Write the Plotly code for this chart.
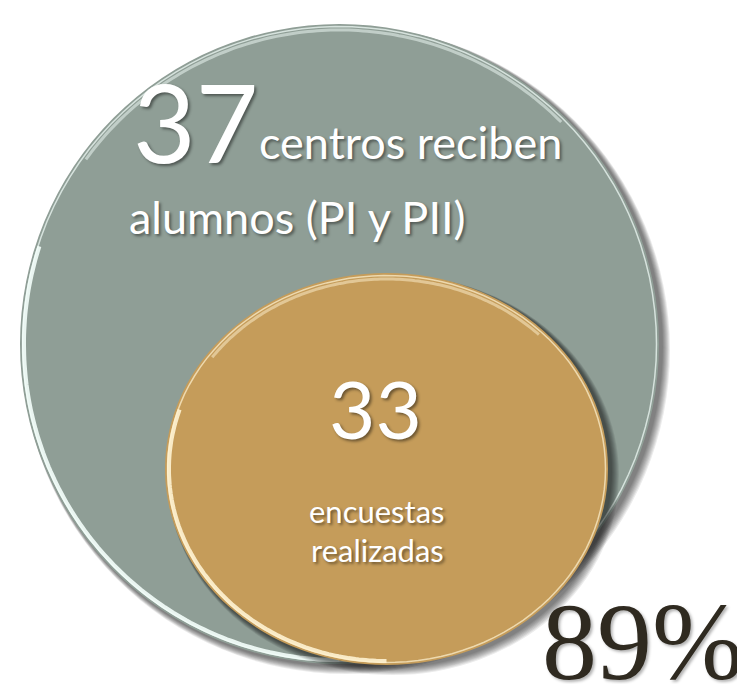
import numpy as np
import plotly.graph_objects as go

# datos
total_centros = 37
encuestas = 33
porcentaje = 89
label_total = ["centros reciben", "alumnos (PI y PII)"]
label_enc = ["encuestas", "realizadas"]

W, H = 745, 684
GREY = "#8f9e96"
GOLD = "#c59c5a"
DARK = "#2f2a20"
WHITE_SHADOW = "2px 2px 3px rgba(0,0,0,0.45)"


def ellipse_path(cx, cy, rx, ry, a0=0, a1=2 * np.pi, n=120, close=True):
    t = np.linspace(a0, a1, n)
    xs = cx + rx * np.cos(t)
    ys = cy + ry * np.sin(t)
    p = "M %.1f %.1f " % (xs[0], ys[0]) + " ".join("L %.1f %.1f" % (x, y) for x, y in zip(xs[1:], ys[1:]))
    return p + (" Z" if close else "")


def bubble(cx, cy, rx, ry, color, rim):
    shapes = []
    # sombra difusa hacia abajo/derecha
    for k in range(8, 0, -1):
        shapes.append(dict(type="circle", xref="x", yref="y",
                           x0=cx - rx + 2, x1=cx + rx + 3 + k, y0=cy - ry + 2, y1=cy + ry + 2 + k,
                           fillcolor="rgba(0,0,0,0.08)", line_width=0, layer="below"))
    shapes.append(dict(type="circle", xref="x", yref="y",
                       x0=cx - rx, x1=cx + rx, y0=cy - ry, y1=cy + ry,
                       fillcolor=color, line=dict(color=color, width=0), layer="below"))
    # brillo en el borde
    shapes.append(dict(type="path", path=ellipse_path(cx, cy, rx - 2.5, ry - 2.5, close=False),
                       line=dict(color=rim, width=1.5), opacity=0.7, layer="below"))
    shapes.append(dict(type="path", path=ellipse_path(cx, cy, rx - 4, ry - 4, 0.5 * np.pi, 1.1 * np.pi, close=False),
                       line=dict(color=rim, width=4), opacity=0.9, layer="below"))
    shapes.append(dict(type="path", path=ellipse_path(cx, cy, rx - 6, ry - 6, 1.2 * np.pi, 1.75 * np.pi, close=False),
                       line=dict(color=rim, width=3), opacity=0.5, layer="below"))
    return shapes


fig = go.Figure()
# traza vacía para fijar los ejes
fig.add_trace(go.Scatter(x=[0, W], y=[0, H], mode="markers", marker=dict(opacity=0), hoverinfo="skip", showlegend=False))

shapes = bubble(331.5, 336, 319.5, 320, GREY, "#f4fffb")
shapes += bubble(378.5, 461, 221.5, 196, GOLD, "#fff3d2")

annots = [
    dict(x=124, y=179, text=str(total_centros), xanchor="left", yanchor="bottom",
         font=dict(family="Lato", size=108, color="white", shadow=WHITE_SHADOW)),
    dict(x=250, y=162, text=label_total[0], xanchor="left", yanchor="bottom",
         font=dict(family="Lato", size=45, color="white", shadow=WHITE_SHADOW)),
    dict(x=120, y=237, text=label_total[1], xanchor="left", yanchor="bottom",
         font=dict(family="Lato", size=45, color="white", shadow=WHITE_SHADOW)),
    dict(x=367, y=449, text=str(encuestas), xanchor="center", yanchor="bottom",
         font=dict(family="Lato", size=80, color="white", shadow=WHITE_SHADOW)),
    dict(x=369, y=523, text=label_enc[0], xanchor="center", yanchor="bottom",
         font=dict(family="Lato", size=31, color="white", shadow=WHITE_SHADOW)),
    dict(x=369, y=562, text=label_enc[1], xanchor="center", yanchor="bottom",
         font=dict(family="Lato", size=31, color="white", shadow=WHITE_SHADOW)),
    dict(x=737, y=572, text=f"{porcentaje}%", xanchor="right", yanchor="top",
         font=dict(family="Liberation Serif", size=110, color=DARK, shadow="2px 2px 3px rgba(0,0,0,0.3)")),
]
for a in annots:
    a.update(xref="x", yref="y", showarrow=False, borderpad=0)

fig.update_layout(
    width=W, height=H, margin=dict(l=0, r=0, t=0, b=0),
    paper_bgcolor="white", plot_bgcolor="white",
    xaxis=dict(range=[0, W], visible=False, fixedrange=True),
    yaxis=dict(range=[H, 0], visible=False, fixedrange=True),
    shapes=shapes, annotations=annots, showlegend=False,
)
fig.write_html("out.html")
